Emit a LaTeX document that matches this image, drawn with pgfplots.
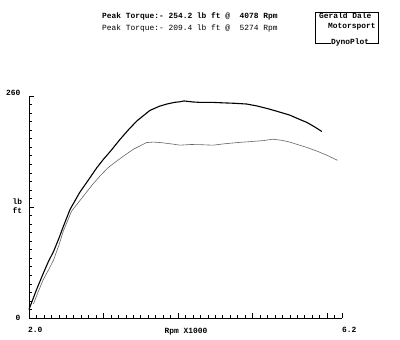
\documentclass[border=0pt]{standalone}
\usepackage{pgfplots}
\pgfplotsset{compat=1.18}
\usepackage{fontspec}
\setmainfont{Liberation Mono}
\begin{document}
\begin{tikzpicture}[x=1pt,y=1pt]
\useasboundingbox[fill=white] (0,0) rectangle (400,340);
\begin{axis}[
  at={(29pt,22pt)}, anchor=south west,
  scale only axis, width=313pt, height=222pt,
  xmin=2, xmax=6.2, ymin=0, ymax=260,
  axis lines=left, axis line style={-, line width=0.8pt},
  xtick={3,4,5,6,6.2}, xticklabels={},
  minor xtick={2.1,2.2,...,6.15},
  ytick={130,260}, yticklabels={},
  minor ytick={10,20,...,250},
  tick align=inside,
  major tick length=5pt, minor tick length=3pt,
  tick style={black, line width=0.6pt},
  clip=false,
]
\addplot[black, line width=1.1pt] coordinates {
(2.00,10) (2.10,33) (2.19,52) (2.26,66) (2.33,78) (2.40,93) (2.46,107) (2.55,127)
(2.68,147) (2.80,162) (2.91,176) (3.00,186) (3.09,195) (3.22,209) (3.34,221) (3.45,231)
(3.55,238) (3.62,243) (3.75,248) (3.85,250.6) (3.95,252.5) (4.03,253.3) (4.08,254.2)
(4.20,253) (4.30,252.5) (4.45,252.6) (4.60,252) (4.75,251.5) (4.92,250.6) (5.05,248.5)
(5.19,245.5) (5.35,241.5) (5.50,237.6) (5.62,233) (5.73,229) (5.83,224) (5.93,218.4)};
\addplot[black!60, line width=0.6pt] coordinates {
(2.06,16.5) (2.12,30) (2.19,44.7) (2.26,56) (2.33,68) (2.40,85) (2.46,101.6) (2.57,125)
(2.73,142.7) (2.85,156) (2.95,166) (3.06,176) (3.18,184) (3.29,191) (3.40,197.6)
(3.50,202) (3.58,205.5) (3.67,206) (3.76,205.5) (3.90,204) (4.03,202.4) (4.17,203.2)
(4.30,203) (4.47,202.4) (4.62,204) (4.80,205.5) (4.97,206.6) (5.15,207.8) (5.27,209.4)
(5.40,208) (5.50,206) (5.59,203.5) (5.72,200) (5.86,195.6) (6.00,190.5) (6.14,184.7)};
\end{axis}
\begin{scope}[font=\fontsize{7.9}{9}\selectfont\bfseries]
\node[anchor=east] at (24,247) {260};
\node[anchor=east] at (24,22) {0};
\node[anchor=west,align=left] at (9,134) {lb\\ft};
\node[anchor=north west, inner sep=0] at (28,13) {2.0};
\node[anchor=north west, inner sep=0] at (342,13) {6.2};
\node[anchor=center] at (186,8) {Rpm X1000};
\node[anchor=west, inner sep=0] at (102,324) {Peak Torque:- 254.2 lb ft @\ \ 4078 Rpm};
\end{scope}
\node[anchor=west, inner sep=0, font=\fontsize{7.9}{9}\selectfont] at (102,312) {Peak Torque:- 209.4 lb ft @\ \ 5274 Rpm};
\draw[line width=0.6pt] (331,297) -- (315,297) -- (315,328) -- (378,328) -- (378,297) -- (366,297);
\begin{scope}[font=\fontsize{7.9}{9}\selectfont\bfseries]
\node[anchor=west, inner sep=0] at (319,324) {Gerald Dale};
\node[anchor=west, inner sep=0] at (328,313) {Motorsport};
\node[anchor=west, inner sep=0] at (331,298) {DynoPlot};
\end{scope}
\end{tikzpicture}
\end{document}
